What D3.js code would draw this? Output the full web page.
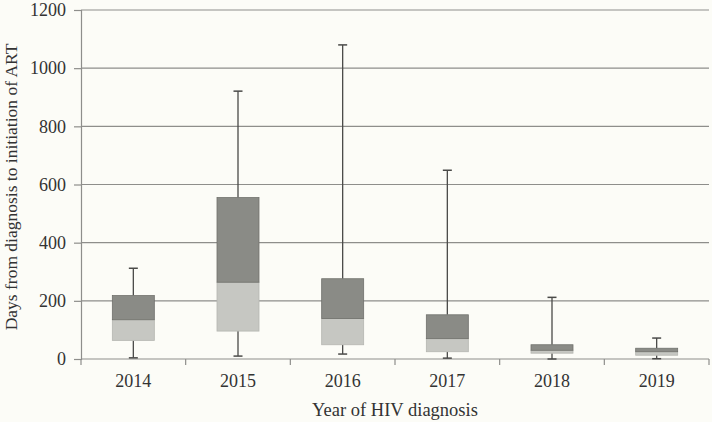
<!DOCTYPE html>
<html>
<head>
<meta charset="utf-8">
<script src="https://cdn.jsdelivr.net/npm/d3@7"></script>
<style>
  html, body { margin: 0; padding: 0; background: #fcfcf7; }
  svg { display: block; }
</style>
</head>
<body>
<svg id="chart" width="712" height="422"></svg>
<script>
const categories = ["2014", "2015", "2016", "2017", "2018", "2019"];
const minValues    = [4, 10, 17, 3, 0, 1];
const q1Values     = [64, 96, 49, 25, 20, 13];
const medianValues = [135, 264, 139, 70, 30, 25];
const q3Values     = [218, 555, 276, 152, 49, 37];
const maxValues    = [312, 921, 1080, 649, 212, 72];
const yTicks = [0, 200, 400, 600, 800, 1000, 1200];

const FONT = "'Liberation Serif', 'Times New Roman', 'DejaVu Serif', serif";
const svg = d3.select("#chart");
const margin = { left: 81, right: 3, top: 10, bottom: 63 };
const W = 712, H = 422;

const x = d3.scaleBand().domain(categories).range([margin.left, W - margin.right]).paddingInner(0).paddingOuter(0);
const y = d3.scaleLinear().domain([0, 1200]).range([H - margin.bottom, margin.top]);

// gridlines
svg.append("g").selectAll("line").data(yTicks.filter(d => d > 0)).join("line")
  .attr("x1", margin.left).attr("x2", W - margin.right)
  .attr("y1", d => y(d)).attr("y2", d => y(d))
  .attr("stroke", "#8e8e8b").attr("stroke-width", 1.2);

// y axis
const yAxis = svg.append("g").attr("transform", `translate(${margin.left},0)`)
  .call(d3.axisLeft(y).tickValues(yTicks).tickSize(7).tickPadding(8).tickFormat(d3.format("d")));
yAxis.attr("font-family", null).attr("font-size", null);
yAxis.select(".domain").attr("stroke", "#8e8e8b").attr("stroke-width", 1.2);
yAxis.selectAll(".tick line").attr("stroke", "#8e8e8b").attr("stroke-width", 1.2);
yAxis.selectAll("text").style("font-size", "18px").style("fill", "#333")
  .style("font-family", FONT);

// x axis line and boundary ticks
const xg = svg.append("g");
xg.append("line").attr("x1", margin.left).attr("x2", W - margin.right)
  .attr("y1", y(0)).attr("y2", y(0)).attr("stroke", "#8e8e8b").attr("stroke-width", 1.2);
const bounds = categories.map(c => x(c)).concat([x(categories[categories.length - 1]) + x.bandwidth()]);
xg.selectAll("line.bt").data(bounds).join("line").attr("class", "bt")
  .attr("x1", d => d).attr("x2", d => d)
  .attr("y1", y(0)).attr("y2", y(0) + 6)
  .attr("stroke", "#8e8e8b").attr("stroke-width", 1.2);
xg.selectAll("text").data(categories).join("text")
  .attr("x", d => x(d) + x.bandwidth() / 2).attr("y", y(0) + 28)
  .attr("text-anchor", "middle")
  .style("font-family", FONT).style("font-size", "18px").style("fill", "#333")
  .text(d => d);

// boxes
const boxW = 42, capW = 9;
const data = categories.map((c, i) => ({
  c, min: minValues[i], q1: q1Values[i], med: medianValues[i], q3: q3Values[i], max: maxValues[i]
}));
const g = svg.append("g");
data.forEach(d => {
  const cx = x(d.c) + x.bandwidth() / 2;
  g.append("line").attr("x1", cx).attr("x2", cx).attr("y1", y(d.q3)).attr("y2", y(d.max))
    .attr("stroke", "#4a4a48").attr("stroke-width", 1.3);
  g.append("line").attr("x1", cx - capW / 2).attr("x2", cx + capW / 2).attr("y1", y(d.max)).attr("y2", y(d.max))
    .attr("stroke", "#4a4a48").attr("stroke-width", 1.5);
  g.append("line").attr("x1", cx).attr("x2", cx).attr("y1", y(d.q1)).attr("y2", y(d.min))
    .attr("stroke", "#4a4a48").attr("stroke-width", 1.3);
  g.append("line").attr("x1", cx - capW / 2).attr("x2", cx + capW / 2).attr("y1", y(d.min)).attr("y2", y(d.min))
    .attr("stroke", "#4a4a48").attr("stroke-width", 1.5);
  g.append("rect").attr("x", cx - boxW / 2).attr("width", boxW)
    .attr("y", y(d.med)).attr("height", y(d.q1) - y(d.med))
    .attr("fill", "#c6c7c2").attr("stroke", "#b5b6b1").attr("stroke-width", 0.8);
  g.append("rect").attr("x", cx - boxW / 2).attr("width", boxW)
    .attr("y", y(d.q3)).attr("height", y(d.med) - y(d.q3))
    .attr("fill", "#8a8b86").attr("stroke", "#70716c").attr("stroke-width", 0.8);
});

// axis titles
svg.append("text")
  .attr("transform", `translate(17,187) rotate(-90)`)
  .attr("text-anchor", "middle")
  .style("font-family", FONT).style("font-size", "17.5px").style("fill", "#333")
  .text("Days from diagnosis to initiation of ART");
svg.append("text")
  .attr("x", (margin.left + W - margin.right) / 2).attr("y", 416)
  .attr("text-anchor", "middle")
  .style("font-family", FONT).style("font-size", "18.5px").style("fill", "#333")
  .text("Year of HIV diagnosis");
</script>
</body>
</html>
